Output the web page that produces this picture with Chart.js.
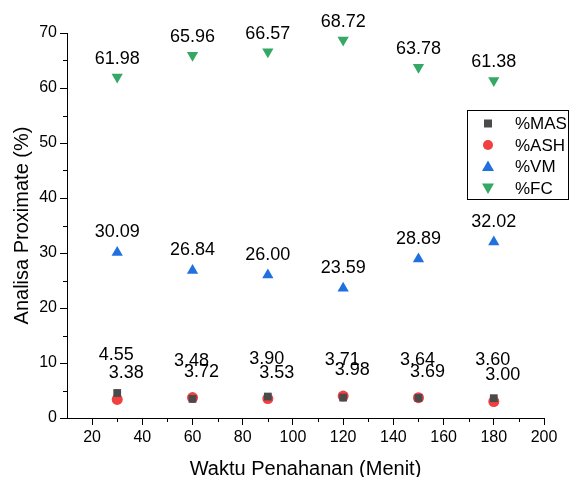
<!DOCTYPE html>
<html>
<head>
<meta charset="utf-8">
<script src="https://cdn.jsdelivr.net/npm/chart.js@4.4.0/dist/chart.umd.min.js"></script>
<style>
  html, body { margin: 0; padding: 0; background: #fff; }
  #wrap { width: 571px; height: 477px; }
</style>
</head>
<body>
<div id="wrap"><canvas id="proximate"></canvas></div>
<script>
// Waktu penahanan (menit)
const waktu = [30, 60, 90, 120, 150, 180];
const mas = [4.55, 3.48, 3.90, 3.71, 3.64, 3.60];
const ash = [3.38, 3.72, 3.53, 3.98, 3.69, 3.00];
const vm = [30.09, 26.84, 26.00, 23.59, 28.89, 32.02];
const fc = [61.98, 65.96, 66.57, 68.72, 63.78, 61.38];
const xTicks = [20, 40, 60, 80, 100, 120, 140, 160, 180, 200];

const FONT = "'Liberation Sans', Arial, sans-serif";

function pts(vals) {
  return waktu.map((w, i) => ({ x: w, y: vals[i] }));
}

// label offsets per dataset (dx, dy)
const labelOffset = [
  { dx: -1, dy: -38 },
  { dx: 9, dy: -26 },
  { dx: 0, dy: -20 },
  { dx: 0, dy: -18 }
];

const valueLabels = {
  id: 'valueLabels',
  afterDatasetsDraw(chart) {
    const ctx = chart.ctx;
    ctx.save();
    ctx.font = '18px ' + FONT;
    ctx.fillStyle = '#000';
    ctx.textAlign = 'center';
    ctx.textBaseline = 'middle';
    chart.data.datasets.forEach((ds, di) => {
      chart.getDatasetMeta(di).data.forEach((el, i) => {
        const o = labelOffset[di];
        ctx.fillText(ds.data[i].y.toFixed(2), el.x + o.dx, el.y + o.dy);
      });
    });
    ctx.restore();
  }
};

// minor ticks + legend box
const extras = {
  id: 'extras',
  afterDraw(chart) {
    const ctx = chart.ctx;
    const xs = chart.scales.x, ys = chart.scales.y;
    ctx.save();
    ctx.strokeStyle = '#000';
    ctx.lineWidth = 1;
    ctx.beginPath();
    for (let v = 5; v < 70; v += 10) {
      const y = Math.round(ys.getPixelForValue(v)) + 0.5;
      ctx.moveTo(xs.left, y);
      ctx.lineTo(xs.left - 4, y);
    }
    for (let v = 30; v <= 190; v += 20) {
      const x = Math.round(xs.getPixelForValue(v)) + 0.5;
      ctx.moveTo(x, ys.bottom);
      ctx.lineTo(x, ys.bottom + 4);
    }
    ctx.stroke();

    // legend
    const lx = 467.5, ly = 110.5, lw = 101, lh = 89;
    ctx.strokeStyle = '#000';
    ctx.strokeRect(lx, ly, lw, lh);
    ctx.font = '17px ' + FONT;
    ctx.textBaseline = 'middle';
    ctx.textAlign = 'left';
    chart.data.datasets.forEach((ds, di) => {
      const cy = ly + 13 + di * 21.5;
      const cx = 488;
      ctx.fillStyle = ds.backgroundColor;
      ctx.beginPath();
      if (di === 0) {
        ctx.rect(cx - 4, cy - 4, 8, 8);
      } else if (di === 1) {
        ctx.arc(cx, cy, 5, 0, Math.PI * 2);
      } else if (di === 2) {
        ctx.moveTo(cx, cy - 6); ctx.lineTo(cx + 6, cy + 4.5); ctx.lineTo(cx - 6, cy + 4.5);
      } else {
        ctx.moveTo(cx, cy + 6); ctx.lineTo(cx + 6, cy - 4.5); ctx.lineTo(cx - 6, cy - 4.5);
      }
      ctx.closePath();
      ctx.fill();
      ctx.fillStyle = '#000';
      ctx.fillText(ds.label, 515, cy + 1);
    });
    ctx.restore();
  }
};

new Chart(document.getElementById('proximate').getContext('2d'), {
  type: 'scatter',
  data: {
    datasets: [
      { label: '%MAS', data: pts(mas), backgroundColor: '#4a4a4a', borderColor: '#4a4a4a',
        pointStyle: 'rect', pointRadius: 5.5, borderWidth: 0 },
      { label: '%ASH', data: pts(ash), backgroundColor: '#f04040', borderColor: '#f04040',
        pointStyle: 'circle', pointRadius: 5.5, borderWidth: 0 },
      { label: '%VM', data: pts(vm), backgroundColor: '#2170e0', borderColor: '#2170e0',
        pointStyle: 'triangle', pointRadius: 6.5, borderWidth: 0 },
      { label: '%FC', data: pts(fc), backgroundColor: '#34a864', borderColor: '#34a864',
        pointStyle: 'triangle', rotation: 180, pointRadius: 6.5, borderWidth: 0 }
    ]
  },
  options: {
    responsive: true,
    maintainAspectRatio: false,
    animation: false,
    layout: { padding: { top: 33, right: 27, left: 0, bottom: 0 } },
    scales: {
      x: {
        min: 10, max: 200,
        afterBuildTicks: s => { s.ticks = xTicks.map(v => ({ value: v })); },
        afterFit: s => { s.height = 59; },
        ticks: { color: '#000', font: { family: FONT, size: 16 }, padding: 3 },
        grid: { drawOnChartArea: false, tickLength: 7, color: '#000', tickColor: '#000' },
        border: { color: '#000', width: 1 },
        title: { display: true, text: 'Waktu Penahanan (Menit)', color: '#000',
                 font: { family: FONT, size: 20 }, padding: { top: 0, bottom: -4 } }
      },
      y: {
        min: 0, max: 70,
        afterFit: s => { s.width = 67; },
        ticks: { stepSize: 10, color: '#000', font: { family: FONT, size: 16 }, padding: 3 },
        grid: { drawOnChartArea: false, tickLength: 7, color: '#000', tickColor: '#000' },
        border: { color: '#000', width: 1 },
        title: { display: true, text: 'Analisa Proximate (%)', color: '#000',
                 font: { family: FONT, size: 20 }, padding: { top: 10, bottom: 0 } }
      }
    },
    plugins: {
      legend: { display: false },
      tooltip: { enabled: false }
    }
  },
  plugins: [valueLabels, extras]
});
</script>
</body>
</html>
